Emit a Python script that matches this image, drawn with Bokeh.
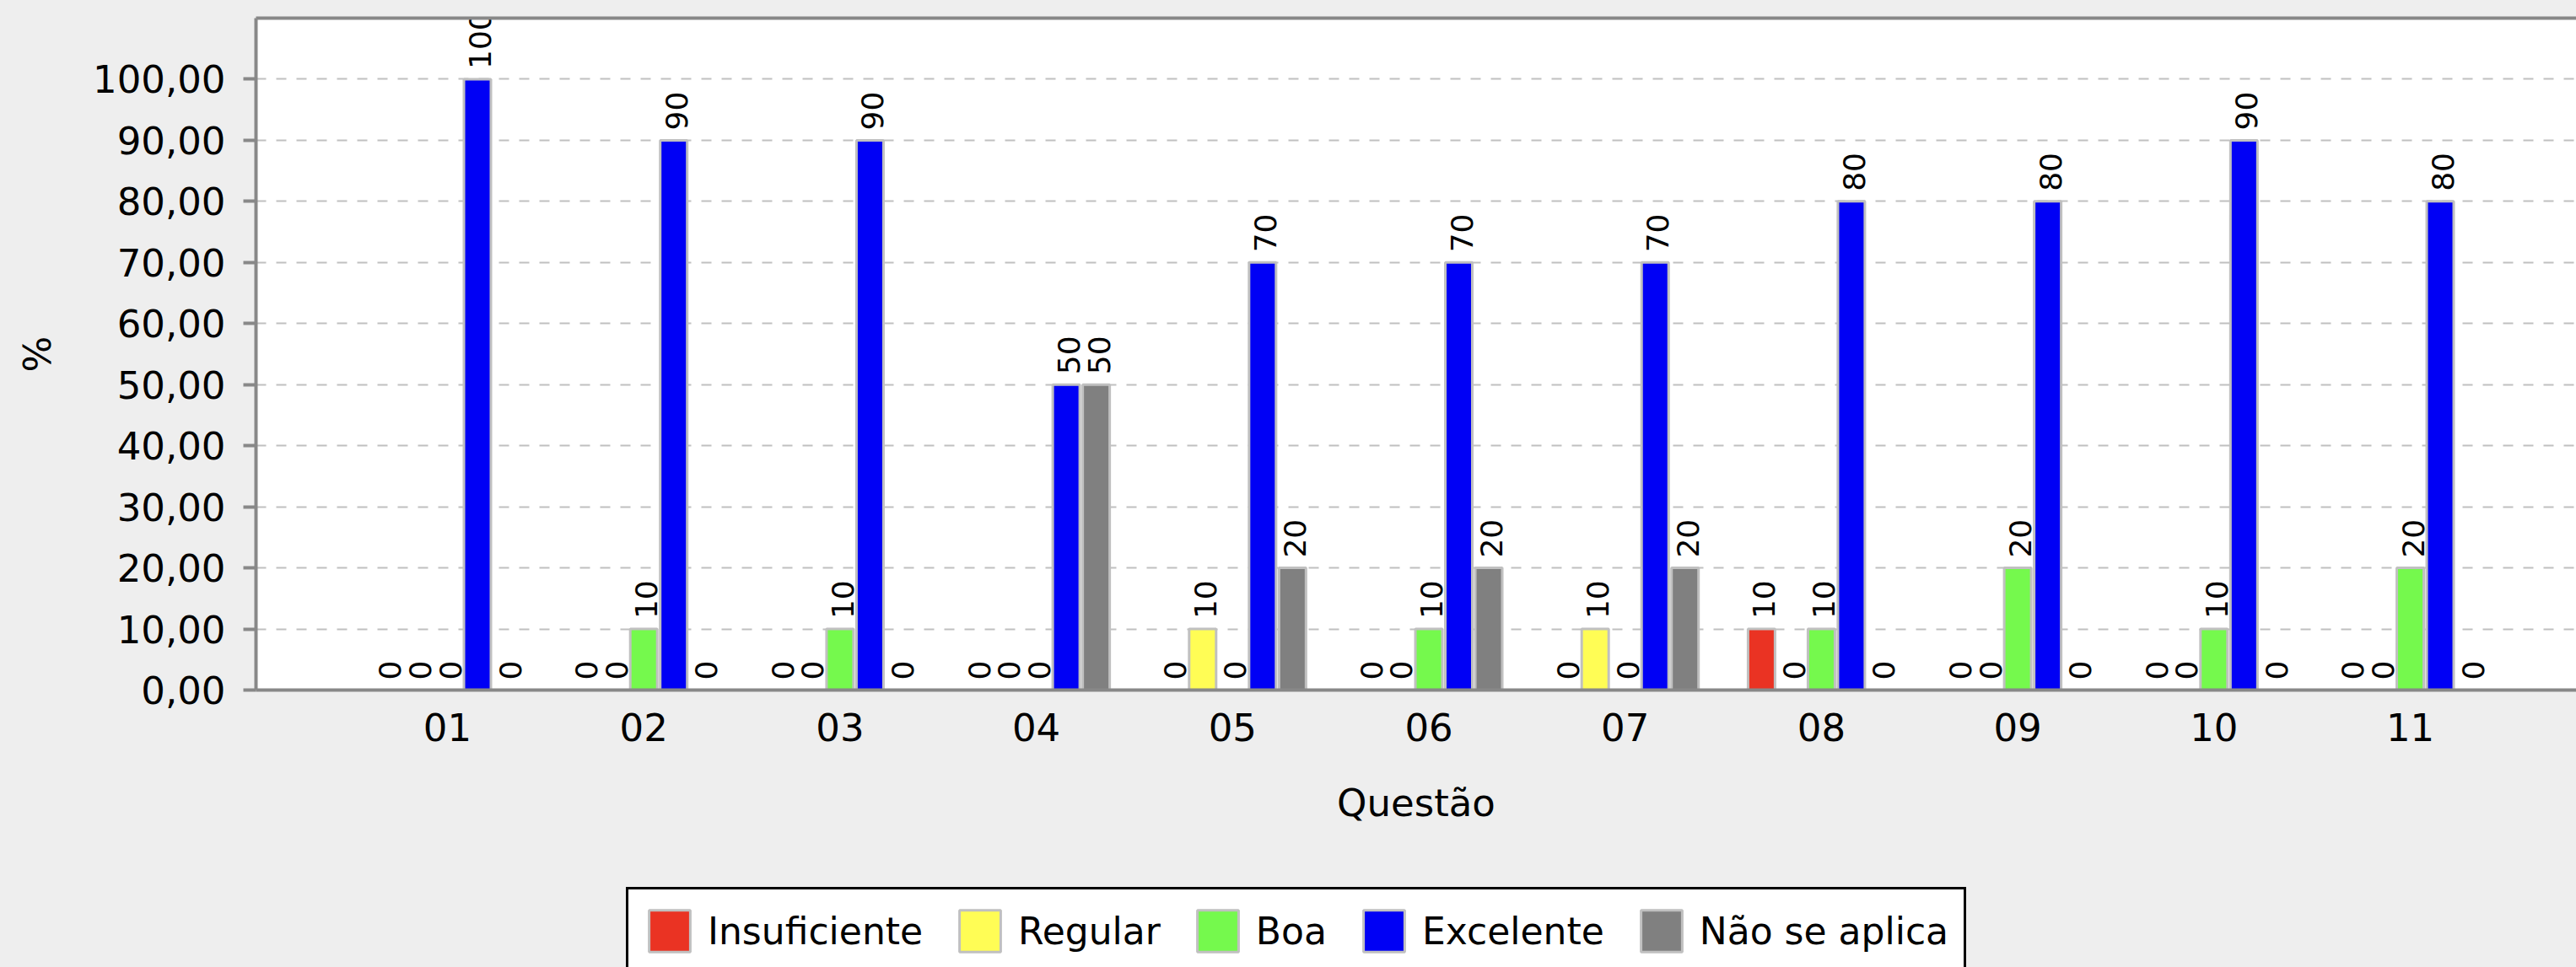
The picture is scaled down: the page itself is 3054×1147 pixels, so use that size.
from math import pi

from bokeh.plotting import figure
from bokeh.layouts import column
from bokeh.models import (ColumnDataSource, Range1d, FixedTicker, LinearAxis,
                          Legend, LegendItem)
from bokeh.core.properties import value
from bokeh.transform import dodge
from bokeh.embed import file_html
from bokeh.resources import INLINE

# ---------------- data ----------------
categories = ["01", "02", "03", "04", "05", "06", "07", "08", "09", "10", "11"]
series_names = ["Insuficiente", "Regular", "Boa", "Excelente", "Não se aplica"]
insuficiente = [0, 0, 0, 0, 0, 0, 0, 10, 0, 0, 0]
regular = [0, 0, 0, 0, 10, 0, 10, 0, 0, 0, 0]
boa = [0, 10, 10, 0, 0, 10, 0, 10, 20, 10, 20]
excelente = [100, 90, 90, 50, 70, 70, 70, 80, 80, 90, 80]
nao_se_aplica = [0, 0, 0, 50, 20, 20, 20, 0, 0, 0, 0]
series_colors = ["#EA3323", "#FFFD55", "#75F94D", "#0000F5", "#808080"]
y_ticks = [0, 10, 20, 30, 40, 50, 60, 70, 80, 90, 100]
y_tick_labels = ["0,00", "10,00", "20,00", "30,00", "40,00", "50,00",
                 "60,00", "70,00", "80,00", "90,00", "100,00"]
x_title = "Questão"
y_title = "%"

FONT = "DejaVu Sans"
GRAY_AXIS = "#888888"
BAR_LINE = "#C0C0C0"
BG = "#EEEEEE"

series_values = [insuficiente, regular, boa, excelente, nao_se_aplica]
xpos = list(range(len(categories)))
cols = ["s0", "s1", "s2", "s3", "s4"]
data = dict(x=xpos, cat=categories)
for c, vals in zip(cols, series_values):
    data[c] = vals
    data[c + "_lbl"] = [str(v) for v in vals]
source = ColumnDataSource(data)

slot = 0.1526
bar_w = 0.1375

# ---------------- main chart ----------------
p = figure(width=3054, height=1040, output_backend="svg", toolbar_location=None,
           x_range=Range1d(-0.9755, 10.8465), y_range=Range1d(0, 110),
           min_border_left=303, min_border_right=0, min_border_top=21,
           min_border_bottom=222,
           background_fill_color="white", border_fill_color=BG,
           outline_line_color=None)

for j, (c, color) in enumerate(zip(cols, series_colors)):
    off = (j - 2) * slot
    p.vbar(x=dodge("x", off), top=c, bottom=0, width=bar_w, source=source,
           fill_color=color, line_color=BAR_LINE, line_width=3)
    p.text(x=dodge("x", off), y=c, text=c + "_lbl", source=source,
           angle=pi / 2, text_align="left", text_baseline="middle",
           text_font=value(FONT), text_font_size="36px", text_color="black",
           x_offset=3, y_offset=-12)

# grid
p.xgrid.visible = False
p.ygrid.grid_line_color = "#C0C0C0"
p.ygrid.grid_line_width = 2
p.ygrid.grid_line_dash = "12 12"

# y axis
ya = p.yaxis[0]
ya.ticker = FixedTicker(ticks=y_ticks)
ya.major_label_overrides = dict(zip(y_ticks, y_tick_labels))
ya.axis_line_color = GRAY_AXIS
ya.axis_line_width = 4
ya.major_tick_line_color = GRAY_AXIS
ya.major_tick_line_width = 4
ya.major_tick_out = 15
ya.major_tick_in = 0
ya.minor_tick_line_color = None
ya.major_label_text_font = FONT
ya.major_label_text_font_size = "45px"
ya.major_label_text_color = "black"
ya.major_label_standoff = 21
ya.axis_label = y_title
ya.axis_label_text_font = FONT
ya.axis_label_text_font_size = "45px"
ya.axis_label_text_font_style = "normal"
ya.axis_label_text_color = "black"
ya.axis_label_standoff = 36

# x axis
xa = p.xaxis[0]
xa.ticker = FixedTicker(ticks=xpos)
xa.major_label_overrides = dict(zip(xpos, categories))
xa.axis_line_color = GRAY_AXIS
xa.axis_line_width = 4
xa.major_tick_out = 0
xa.major_tick_in = 0
xa.major_tick_line_color = None
xa.minor_tick_line_color = None
xa.major_label_text_font = FONT
xa.major_label_text_font_size = "45px"
xa.major_label_text_color = "black"
xa.major_label_standoff = 27
xa.axis_label = x_title
xa.axis_label_text_font = FONT
xa.axis_label_text_font_size = "45px"
xa.axis_label_text_font_style = "normal"
xa.axis_label_text_color = "black"
xa.axis_label_standoff = 44

# top border line
top_axis = LinearAxis(ticker=FixedTicker(ticks=[]), axis_line_color=GRAY_AXIS,
                      axis_line_width=4, major_tick_out=0, major_tick_in=0,
                      minor_tick_out=0, minor_tick_in=0, major_label_standoff=0,
                      major_tick_line_color=None, minor_tick_line_color=None)
p.add_layout(top_axis, "above")

# ---------------- legend strip ----------------
# the same series renderers (hidden) provide the legend swatches
pl = figure(width=3054, height=107, output_backend="svg", toolbar_location=None,
            x_range=Range1d(-0.9755, 10.8465), y_range=Range1d(0, 110),
            x_axis_location=None, y_axis_location=None,
            min_border_left=303, min_border_right=0, min_border_top=0,
            min_border_bottom=0,
            background_fill_color=BG, border_fill_color=BG,
            outline_line_color=None)
pl.xgrid.visible = False
pl.ygrid.visible = False
legend_renderers = []
for j, (c, color) in enumerate(zip(cols, series_colors)):
    off = (j - 2) * slot
    r = pl.vbar(x=dodge("x", off), top=c, bottom=0, width=bar_w, source=source,
                fill_color=color, line_color=BAR_LINE, line_width=3)
    r.visible = False
    legend_renderers.append(r)

legend = Legend(items=[LegendItem(label=n, renderers=[r])
                       for n, r in zip(series_names, legend_renderers)],
                location=(439, -9), orientation="horizontal",
                glyph_width=61, glyph_height=62, label_standoff=15, spacing=37,
                padding=18, margin=0,
                label_text_font=FONT, label_text_font_size="44px",
                label_text_color="black",
                border_line_color="black", border_line_width=3,
                border_line_alpha=1.0,
                background_fill_color="white", background_fill_alpha=1.0,
                inactive_fill_alpha=0.0)
pl.add_layout(legend)

layout = column(p, pl, spacing=0)

html = file_html(layout, INLINE, title="chart",
                 template="{% block postamble %}<style>html,body{margin:0;padding:0;background-color:#EEEEEE;}</style>{% endblock %}")
open("out.html", "w").write(html)
